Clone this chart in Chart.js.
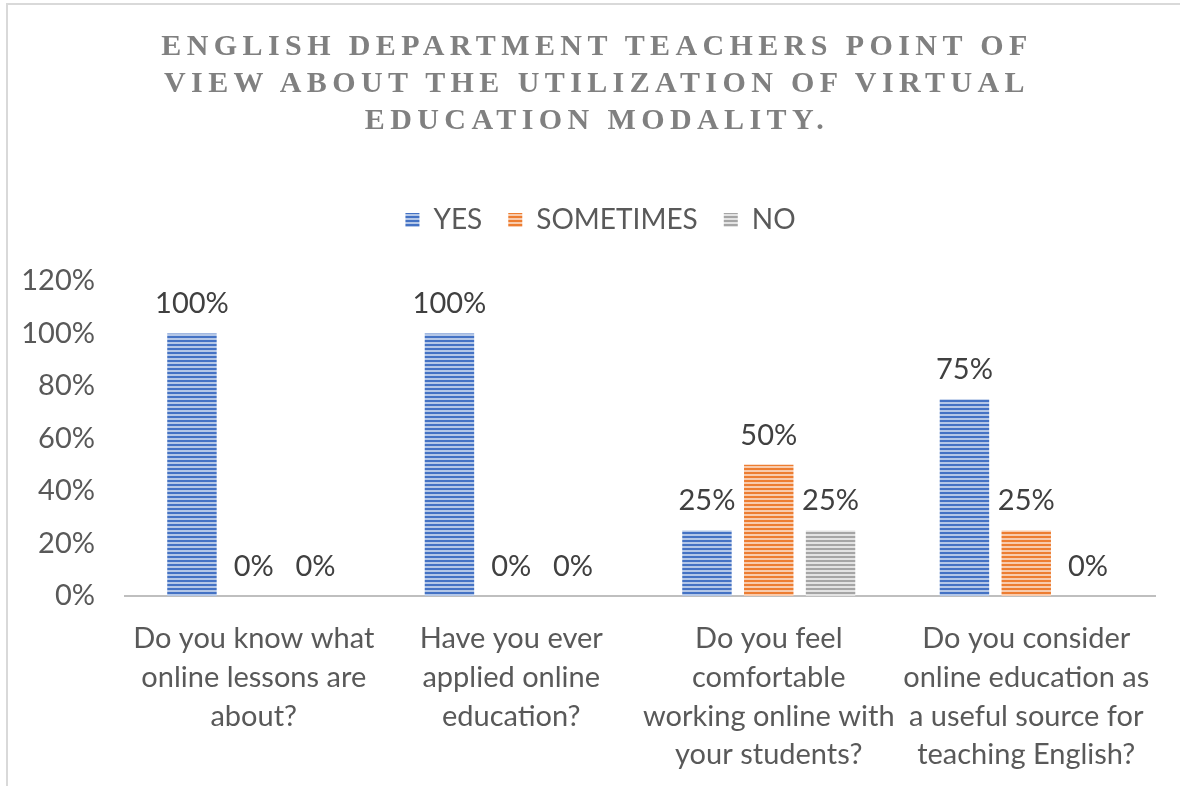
<!DOCTYPE html>
<html>
<head>
<meta charset="utf-8">
<script src="https://cdn.jsdelivr.net/npm/chart.js@4.4.1/dist/chart.umd.min.js"></script>
<style>
    html, body { margin: 0; padding: 0; background: #ffffff; overflow: hidden; }
    #wrap { position: relative; width: 1180px; height: 786px; }
    #frame { position: absolute; left: 6px; top: 3px; width: 1200px; height: 800px; border-left: 2px solid #d9d9d9; border-top: 2px solid #d9d9d9; }
    #title { position: absolute; left: 0; top: 26px; width: 1194px; text-align: center; font-family: "Liberation Serif", serif; font-weight: bold; font-size: 30px; line-height: 37px; letter-spacing: 5.4px; color: #808080; }
    canvas { position: absolute; left: 0; top: 0; }
</style>
</head>
<body>
<div id="wrap">
    <div id="frame"></div>
    <canvas id="chart" width="1180" height="786"></canvas>
    <div id="title">ENGLISH DEPARTMENT TEACHERS POINT OF<br>VIEW ABOUT THE UTILIZATION OF VIRTUAL<br>EDUCATION MODALITY.</div>
</div>
<script>
const categories = [
    ["Do you know what", "online lessons are", "about?"],
    ["Have you ever", "applied online", "education?"],
    ["Do you feel", "comfortable", "working online with", "your students?"],
    ["Do you consider", "online education as", "a useful source for", "teaching English?"],
];
const seriesNames = ["YES", "SOMETIMES", "NO"];
const yesValues = [1.0, 1.0, 0.25, 0.75];
const sometimesValues = [0, 0, 0.5, 0.25];
const noValues = [0, 0, 0.25, 0];
const yMax = 1.2;
const yStep = 0.2;

const fontFamily = "Lato, 'Open Sans', sans-serif";
const textColor = "#595959";

const canvas = document.getElementById("chart");
const ctx = canvas.getContext("2d");

// horizontal stripe fill like the office "narrow horizontal" pattern
function stripes(dark, light) {
    const tile = document.createElement("canvas");
    tile.width = 4;
    tile.height = 4;
    const g = tile.getContext("2d");
    g.fillStyle = light;
    g.fillRect(0, 0, 4, 4);
    g.fillStyle = dark;
    g.fillRect(0, 0, 4, 2);
    return ctx.createPattern(tile, "repeat");
}

const barLabels = {
    id: "barLabels",
    afterLayout(chart) {
        // the legend in the original sits a bit right of the canvas centre
        chart.legend.left += 18;
        chart.legend.right += 18;
    },
    afterDatasetsDraw(chart) {
        const c = chart.ctx;
        c.save();
        c.font = `29px ${fontFamily}`;
        c.fillStyle = "#404040";
        c.textAlign = "center";
        c.textBaseline = "bottom";
        chart.data.datasets.forEach((dataset, i) => {
            chart.getDatasetMeta(i).data.forEach((bar, j) => {
                const text = Math.round(dataset.data[j] * 100) + "%";
                c.fillText(text, bar.x, bar.y - 15);
            });
        });
        c.restore();
    },
};

new Chart(canvas, {
    type: "bar",
    data: {
        labels: categories,
        datasets: [
            { label: seriesNames[0], data: yesValues, backgroundColor: stripes("#4472c4", "#b4c7e7"), borderWidth: 0 },
            { label: seriesNames[1], data: sometimesValues, backgroundColor: stripes("#ed7d31", "#f8cbad"), borderWidth: 0 },
            { label: seriesNames[2], data: noValues, backgroundColor: stripes("#a5a5a5", "#e3e3e3"), borderWidth: 0 },
        ],
    },
    options: {
        responsive: false,
        animation: false,
        devicePixelRatio: 1,
        layout: { padding: { left: 10, right: 25, top: 180, bottom: 0 } },
        datasets: { bar: { categoryPercentage: 0.72, barPercentage: 0.8 } },
        plugins: {
            legend: {
                position: "top",
                labels: {
                    boxWidth: 14,
                    boxHeight: 14,
                    padding: 26,
                    color: textColor,
                    font: { family: fontFamily, size: 28 },
                },
            },
            // empty subtitle used only as a gap between legend and plot
            subtitle: {
                display: true,
                text: " ",
                weight: 500,
                font: { size: 10 },
                padding: { top: 0, bottom: 25 },
            },
            tooltip: { enabled: false },
        },
        scales: {
            x: {
                grid: { display: false },
                border: { display: true, color: "#bfbfbf", width: 2 },
                ticks: {
                    color: textColor,
                    font: { family: fontFamily, size: 29, lineHeight: 1.34 },
                    padding: 15,
                    maxRotation: 0,
                    minRotation: 0,
                    autoSkip: false,
                },
                afterFit(scale) { scale.height = 190; },
            },
            y: {
                min: 0,
                max: yMax,
                grid: { display: false, drawTicks: false },
                border: { display: false },
                ticks: {
                    stepSize: yStep,
                    padding: 30,
                    color: textColor,
                    font: { family: fontFamily, size: 29 },
                    callback: (v) => Math.round(v * 100) + "%",
                },
                afterFit(scale) { scale.width = 115; },
            },
        },
    },
    plugins: [barLabels],
});
</script>
</body>
</html>
